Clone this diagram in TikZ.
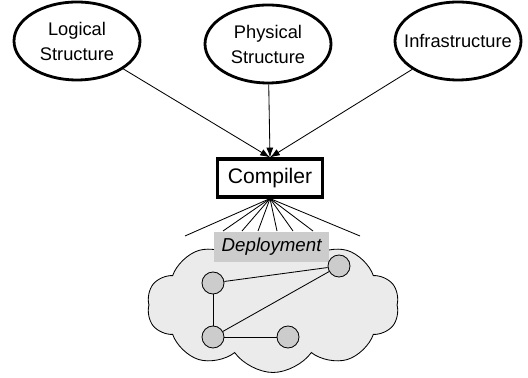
\documentclass[tikz,border=0pt]{standalone}
\usepackage{fontspec}
\setmainfont{Liberation Sans}
\usetikzlibrary{shapes.geometric,shapes.symbols,arrows.meta}

\begin{document}
\begin{tikzpicture}[
    model/.style={draw,ellipse,line width=2pt,minimum width=3.15cm,minimum height=1.95cm,
        inner xsep=-0.24cm,inner ysep=0pt,align=center,font=\fontsize{13}{17.8}\selectfont},
    pc/.style={draw,circle,fill=black!20,line width=0.6pt,minimum size=0.55cm,inner sep=0pt},
    feed/.style={-{Latex[length=7pt,width=5pt]},line width=0.6pt},
    fan/.style={line width=0.6pt}]
\useasboundingbox (0,0) rectangle (13.2,9.45);
% inputs
\node[model] (logical) at (1.925,8.425) {Logical\\Structure};
\node[model] (physical) at (6.7,8.35) {Physical\\Structure};
\node[model] (infra) at (11.45,8.425) {Infrastructure};
\node[draw,line width=2.2pt,minimum width=2.625cm,minimum height=0.95cm,inner sep=0pt,
    font=\fontsize{15}{18}\selectfont] (compiler) at (6.75,5.0) {Compiler};
\draw[feed] (logical) -- (compiler.north);
\draw[feed] (physical) -- (compiler.north);
\draw[feed] (infra) -- (compiler.north);
% deployment cloud
\node[draw,cloud,cloud puffs=10,cloud puff arc=110,cloud ignores aspect,fill=black!8,
    line width=0.6pt,minimum width=6.3cm,minimum height=3.375cm] (cloud) at (6.825,1.825) {};
\foreach \x/\y in {4.625/3.55,5.575/3.675,6.05/3.675,6.45/3.675,6.925/3.675,7.325/3.675,7.825/3.675,9.0/3.55}
    \draw[fan] (compiler.south) -- (\x,\y);
\node[fill=black!20,minimum width=2.875cm,minimum height=0.75cm,inner sep=0pt,
    font=\fontsize{13.3}{16}\selectfont\itshape] (deploy) at (6.79,3.275) {Deployment};
\node[pc] (n1) at (5.325,2.375) {};
\node[pc] (n2) at (8.475,2.8) {};
\node[pc] (n3) at (5.325,1.025) {};
\node[pc] (n4) at (7.2,1.025) {};
\draw[fan] (n1) -- (n2);
\draw[fan] (n1) -- (n3);
\draw[fan] (n3) -- (n2);
\draw[fan] (n3) -- (n4);
\end{tikzpicture}
\end{document}
